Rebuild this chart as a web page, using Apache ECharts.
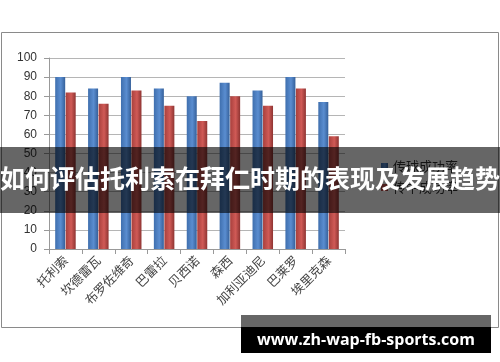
<!DOCTYPE html>
<html><head><meta charset="utf-8">
<script src="https://cdn.jsdelivr.net/npm/echarts@6/dist/echarts.min.js"></script>
<style>html,body{margin:0;padding:0;background:#fff}#c{width:500px;height:362px}</style>
</head><body><div id="c"></div>
<script>
var categories = ['托利索','坎德雷瓦','布罗佐维奇','巴雷拉','贝西诺','森西','加利亚迪尼','巴莱罗','埃里克森'];
var seriesNames = ['传球成功率','传中成功率'];
var passRate = [90, 84, 90, 84, 80, 87, 83, 90, 77];
var secondRate = [82, 76, 83, 75, 67, 80, 75, 84, 59];
var yTicks = [0,10,20,30,40,50,60,70,80,90,100];
var bannerText = '如何评估托利索在拜仁时期的表现及发展趋势';
var watermark = 'www.zh-wap-fb-sports.com';

var chart = echarts.init(document.getElementById('c'), null, {renderer:'canvas'});
function grad(a,b,c){return new echarts.graphic.LinearGradient(0,0,1,0,[{offset:0,color:a},{offset:0.55,color:b},{offset:1,color:c}]);}
chart.setOption({
  animation:false,
  backgroundColor:'#fff',
  grid:{left:49,right:155,top:58,bottom:113},
  legend:{
    orient:'vertical', left:376, top:155, itemWidth:7, itemHeight:7, itemGap:8,
    icon:'rect',
    textStyle:{fontFamily:'Noto Sans CJK SC',fontSize:13,color:'#333'},
    data:seriesNames
  },
  xAxis:{
    type:'category', data:categories,
    axisLine:{lineStyle:{color:'#999'}},
    axisTick:{show:true,length:5,lineStyle:{color:'#999'}},
    axisLabel:{rotate:45,fontFamily:'Noto Sans CJK SC',fontSize:12.5,color:'#444',margin:9}
  },
  yAxis:{
    type:'value', min:yTicks[0], max:yTicks[yTicks.length-1], interval:yTicks[1]-yTicks[0],
    axisLine:{show:true,lineStyle:{color:'#999'}},
    axisTick:{show:true,length:5,lineStyle:{color:'#999'}},
    axisLabel:{fontFamily:'Liberation Sans',fontSize:12,color:'#333',margin:12},
    splitLine:{lineStyle:{color:'#b5b5b5'}}
  },
  series:[
    {name:seriesNames[0],type:'bar',data:passRate,barWidth:10,barGap:'5%',
     itemStyle:{color:grad('#3f6fae','#5a8dd0','#35609a')}},
    {name:seriesNames[1],type:'bar',data:secondRate,barWidth:10,
     itemStyle:{color:grad('#a8403d','#d05a56','#8e3432')}}
  ],
  graphic:[
    {type:'rect',shape:{x:1.5,y:32.5,width:497,height:295},style:{fill:null,stroke:'#8a8a8a',lineWidth:1},z:1},
    {type:'rect',shape:{x:0,y:147,width:500,height:66},style:{fill:'rgba(0,0,0,0.6)'},z:100},
    {type:'text',left:'center',top:166,style:{text:bannerText,fill:'#fff',font:'bold 25px "Noto Sans CJK SC"'},z:101},
    {type:'rect',shape:{x:241,y:315,width:250,height:12},style:{fill:'#666'},z:100},
    {type:'rect',shape:{x:241,y:327,width:250,height:26},style:{fill:'#000'},z:100},
    {type:'text',x:366,y:340,style:{text:watermark,fill:'#fff',font:'bold 16px "Open Sans"',textAlign:'center',textVerticalAlign:'middle'},z:101}
  ]
});
</script></body></html>
